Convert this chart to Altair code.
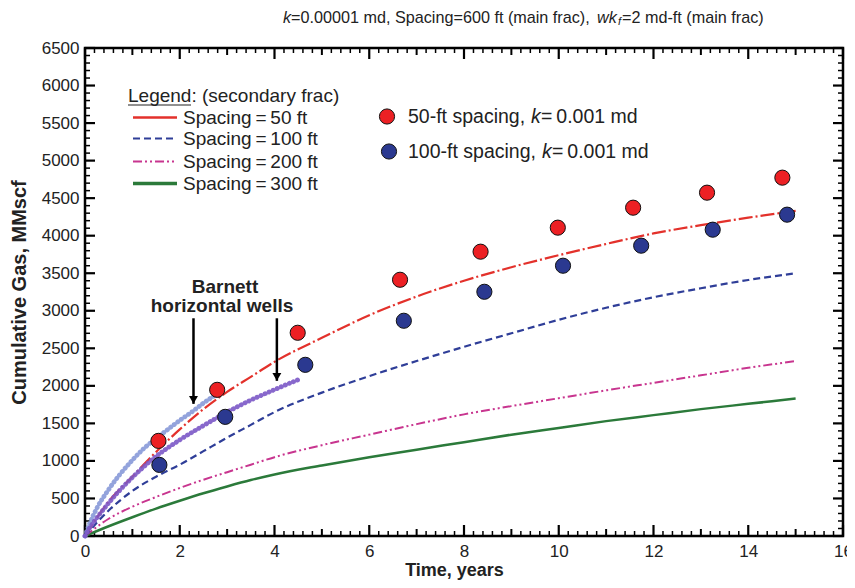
import altair as alt
import pandas as pd

# ---------------- data ----------------
t_curve = [0, 0.5, 1, 1.5, 2, 2.5, 3, 3.5, 4, 5, 6, 7, 8, 9, 10, 11, 12, 13, 14, 15]
gas_50 = [0, 460, 790, 1120, 1420, 1690, 1920, 2120, 2320, 2640, 2940, 3190, 3400, 3580, 3740, 3890, 4030, 4140, 4240, 4330]
gas_100 = [0, 340, 600, 790, 950, 1130, 1310, 1480, 1650, 1910, 2130, 2330, 2520, 2700, 2880, 3040, 3180, 3300, 3410, 3500]
gas_200 = [0, 230, 390, 520, 640, 750, 850, 950, 1050, 1210, 1350, 1490, 1620, 1730, 1835, 1940, 2040, 2140, 2240, 2330]
gas_300 = [0, 130, 250, 365, 470, 570, 660, 745, 820, 940, 1050, 1150, 1250, 1350, 1440, 1530, 1610, 1690, 1760, 1830]

t_well_a = [0, 0.1, 0.25, 0.5, 0.75, 1, 1.25, 1.5, 1.75, 2, 2.25, 2.5, 2.78]
gas_well_a = [0, 170, 370, 620, 830, 1010, 1170, 1300, 1420, 1540, 1650, 1770, 1890]
t_well_b = [0, 0.1, 0.25, 0.5, 0.75, 1, 1.5, 2, 2.5, 3, 3.5, 4, 4.57]
gas_well_b = [0, 110, 240, 440, 620, 780, 1060, 1280, 1470, 1650, 1810, 1950, 2100]

t_pts_50 = [1.55, 2.79, 4.49, 6.65, 8.35, 9.98, 11.57, 13.13, 14.72]
gas_pts_50 = [1267, 1947, 2707, 3413, 3787, 4107, 4373, 4573, 4773]
t_pts_100 = [1.57, 2.96, 4.65, 6.73, 8.43, 10.09, 11.74, 13.25, 14.82]
gas_pts_100 = [947, 1587, 2280, 2867, 3253, 3600, 3867, 4080, 4280]

arrow_t = [2.29, 4.05]
arrow_top = [2900, 2900]
arrow_tip = [1760, 2067]

x_tick_labels = [0, 2, 4, 6, 8, 10, 12, 14, 16]
y_tick_labels = [0, 500, 1000, 1500, 2000, 2500, 3000, 3500, 4000, 4500, 5000, 5500, 6000, 6500]
x_mid_ticks = [1, 3, 5, 7, 9, 11, 13, 15]
x_minor_ticks = [round(i * 0.2, 1) for i in range(81) if i % 5]
y_minor_ticks = [v for v in range(0, 6501, 100) if v % 500]

# ---------------- styling ----------------
W, H = 758, 488
FONT = "Liberation Sans"
TXT = "#222222"
TS = "\u2009"  # thin space around '=' as in the reference typography
DUMMY = pd.DataFrame({"d": [0]})

xs = alt.Scale(domain=[0, 16], nice=False, zero=False)
ys = alt.Scale(domain=[0, 6500], nice=False, zero=False)

x_axis = alt.Axis(values=x_tick_labels, ticks=False, domain=False, grid=False, format="d",
                  labelFlush=False,
                  labelFont=FONT, labelFontSize=17, labelColor=TXT, labelPadding=7,
                  title="Time, years", titleFont=FONT, titleFontSize=18, titleFontWeight="bold",
                  titleColor=TXT, titleX=369, titleY=34, titleBaseline="middle")
y_axis = alt.Axis(values=y_tick_labels, ticks=False, domain=False, grid=False, format="d",
                  labelFlush=False,
                  labelFont=FONT, labelFontSize=17, labelColor=TXT, labelPadding=6,
                  title="Cumulative Gas, MMscf", titleFont=FONT, titleFontSize=20,
                  titleFontWeight="bold", titleColor=TXT, titlePadding=12)


def X(f):
    return alt.X(f"{f}:Q", scale=xs, axis=x_axis)


def Y(f):
    return alt.Y(f"{f}:Q", scale=ys, axis=y_axis)


def curve(t, g, **style):
    df = pd.DataFrame({"t": t, "g": g})
    return alt.Chart(df).mark_line(interpolate="monotone", **style).encode(x=X("t"), y=Y("g"))


def dots(t, g, color):
    df = pd.DataFrame({"t": t, "g": g})
    return alt.Chart(df).mark_circle(size=230, color=color, opacity=1, stroke="#111111",
                                     strokeWidth=1).encode(x=X("t"), y=Y("g"))


def xticks(vals, length, sw, top=False):
    df = pd.DataFrame({"t": vals})
    y0, y1 = (0, length) if top else (H, H - length)
    return alt.Chart(df).mark_rule(color="black", strokeWidth=sw).encode(
        x=X("t"), y=alt.value(y0), y2=alt.value(y1))


def yticks(vals, length, sw, right=False):
    df = pd.DataFrame({"v": vals})
    x0, x1 = (W, W - length) if right else (0, length)
    return alt.Chart(df).mark_rule(color="black", strokeWidth=sw).encode(
        y=Y("v"), x=alt.value(x0), x2=alt.value(x1))


def label(txt, x, y, size=19, weight="normal", style="normal", align="left"):
    return alt.Chart(DUMMY).mark_text(text=txt, fontSize=size, fontWeight=weight, fontStyle=style,
                                      align=align, baseline="middle", font=FONT, color=TXT).encode(
        x=alt.value(x), y=alt.value(y))


def sample(y, **style):
    return alt.Chart(DUMMY).mark_rule(**style).encode(x=alt.value(48), x2=alt.value(92), y=alt.value(y))


red_line = dict(color="#e3312b", strokeWidth=2.2, strokeDash=[14, 3, 2, 3])
blue_line = dict(color="#2f3e98", strokeWidth=2.2, strokeDash=[7, 4])
mag_line = dict(color="#c8358f", strokeWidth=2, strokeDash=[9, 3, 2, 3, 2, 3])
green_line = dict(color="#2b7a3a", strokeWidth=2.5)
bead = dict(strokeWidth=4.8, strokeDash=[0.1, 4.3], strokeCap="round", opacity=0.9)

layers = []
# tick marks (inward, all four sides)
for top in (False, True):
    layers += [xticks(x_minor_ticks, 5, 1.5, top), xticks(x_mid_ticks, 7, 2, top),
               xticks(x_tick_labels, 11, 2.2, top)]
for right in (False, True):
    layers += [yticks(y_minor_ticks, 5, 1.5, right), yticks(y_tick_labels, 10, 2.2, right)]

# model curves
layers += [curve(t_curve, gas_300, **green_line),
           curve(t_curve, gas_200, **mag_line),
           curve(t_curve, gas_100, **blue_line),
           curve(t_curve, gas_50, **red_line)]
# Barnett wells
layers += [curve(t_well_a, gas_well_a, color="#8799d8", **bead),
           curve(t_well_b, gas_well_b, color="#7b58c6", **bead)]
# simulated points
layers += [dots(t_pts_50, gas_pts_50, "#ec2024"), dots(t_pts_100, gas_pts_100, "#2b3990")]

# arrows
arr = pd.DataFrame({"t": arrow_t, "top": arrow_top, "tip": arrow_tip})
layers += [alt.Chart(arr).mark_rule(color="black", strokeWidth=2.5).encode(
               x=X("t"), y=Y("top"), y2=alt.Y2("tip:Q")),
           alt.Chart(arr).mark_point(shape="triangle-down", size=80, filled=True, color="black",
                                     opacity=1, yOffset=-4).encode(x=X("t"), y=Y("tip"))]

# annotation
layers += [label("Barnett", 140, 239, size=19, weight="bold", align="center"),
           label("horizontal wells", 137, 258, size=19, weight="bold", align="center")]

# title (mixed styles)
layers += [label("k", 198, -30.5, size=16.2, style="italic"),
           label("=0.00001 md, Spacing=600 ft (main frac),", 206, -30.5, size=16.2),
           label("wk", 512, -30.5, size=16.2, style="italic"),
           label("f", 533, -26, size=11, style="italic"),
           label("=2 md-ft (main frac)", 537, -30.5, size=16.2)]

# secondary-frac legend
layers += [label("Legend: (secondary frac)", 43, 47.5),
           alt.Chart(DUMMY).mark_rule(color=TXT, strokeWidth=1.2).encode(
               x=alt.value(43), x2=alt.value(106), y=alt.value(57)),
           sample(69.5, color="#e3312b", strokeWidth=2.5),
           sample(90.5, color="#2f3e98", strokeWidth=2.2, strokeDash=[7, 4]),
           sample(113.5, color="#c8358f", strokeWidth=2.2, strokeDash=[9, 3, 2, 3, 2, 3]),
           sample(135.5, color="#2b7a3a", strokeWidth=3.5),
           label(f"Spacing{TS}={TS}50 ft", 98, 69.5),
           label(f"Spacing{TS}={TS}100 ft", 98, 90.5),
           label(f"Spacing{TS}={TS}200 ft", 98, 113.5),
           label(f"Spacing{TS}={TS}300 ft", 98, 135.5)]

# point legend
layers += [alt.Chart(DUMMY).mark_circle(size=230, color="#ec2024", opacity=1, stroke="#111111",
                                        strokeWidth=1).encode(x=alt.value(302), y=alt.value(68.5)),
           alt.Chart(DUMMY).mark_circle(size=230, color="#2b3990", opacity=1, stroke="#111111",
                                        strokeWidth=1).encode(x=alt.value(304), y=alt.value(103.5)),
           label("50-ft spacing, ", 323, 68.5, size=19.5),
           label("k", 446, 68.5, size=19.5, style="italic"),
           label(f"{TS}={TS}0.001 md", 456, 68.5, size=19.5),
           label("100-ft spacing, ", 323, 103.5, size=19.5),
           label("k", 457, 103.5, size=19.5, style="italic"),
           label(f"{TS}={TS}0.001 md", 467, 103.5, size=19.5)]

chart = alt.layer(*layers).properties(
    width=W, height=H,
    autosize=alt.AutoSizeParams(type="none"),
    padding={"left": 77, "top": 40, "right": 4, "bottom": 44},
    background="white",
).configure_view(stroke="black", strokeWidth=2.5)

chart.save("out.html", embed_options={"renderer": "svg", "actions": False})
